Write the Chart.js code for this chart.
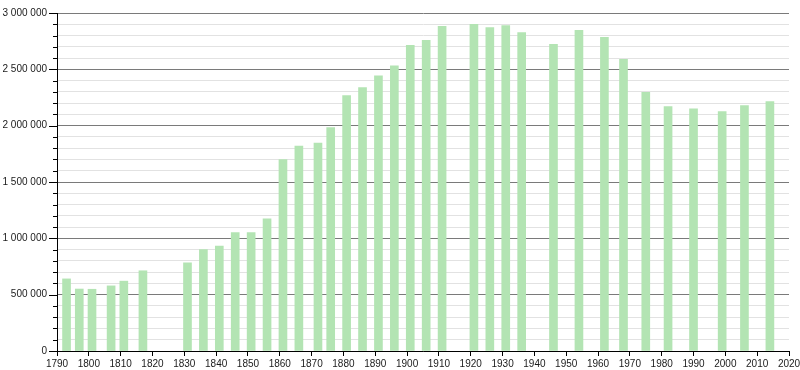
<!DOCTYPE html>
<html>
<head>
<meta charset="utf-8">
<script src="https://cdn.jsdelivr.net/npm/chart.js@4/dist/chart.umd.min.js"></script>
<style>
  html, body { margin: 0; padding: 0; background: #fff; }
  #wrap { width: 800px; height: 370px; }
</style>
</head>
<body>
<div id="wrap"><canvas id="myChart" width="800" height="370"></canvas></div>
<script>
// Census years and population
const years = [1793, 1797, 1801, 1807, 1811, 1817, 1831, 1836, 1841, 1846, 1851, 1856,
    1861, 1866, 1872, 1876, 1881, 1886, 1891, 1896, 1901, 1906, 1911, 1921, 1926,
    1931, 1936, 1946, 1954, 1962, 1968, 1975, 1982, 1990, 1999, 2006, 2014];
const population = [640000, 550000, 548000, 578000, 620000, 712000, 782000, 900000, 932000,
    1050000, 1050000, 1172000, 1698000, 1818000, 1845000, 1982000, 2266000, 2338000,
    2443000, 2532000, 2712000, 2758000, 2882000, 2900000, 2870000, 2888000, 2827000,
    2721000, 2846000, 2784000, 2588000, 2295000, 2170000, 2150000, 2124000, 2178000, 2214000];

const xMin = 1790, xMax = 2020, xStep = 10;
const yMax = 3000000, yMinorStep = 100000, yMajorStep = 500000;

const points = years.map((y, i) => ({ x: y, y: population[i] }));

function spaced(v) {
    return String(v).replace(/\B(?=(\d{3})+(?!\d))/g, ' ');
}

// draws the small y ticks: longer at labelled values
const yTicksPlugin = {
    id: 'yTicks',
    afterDraw(chart) {
        const s = chart.scales.y;
        const ctx = chart.ctx;
        ctx.save();
        ctx.strokeStyle = '#000';
        ctx.lineWidth = 1;
        s.ticks.forEach(t => {
            const py = Math.round(s.getPixelForValue(t.value)) + 0.5;
            const len = t.value % yMajorStep === 0 ? 8 : 4;
            ctx.beginPath();
            ctx.moveTo(s.right - len, py);
            ctx.lineTo(s.right, py);
            ctx.stroke();
        });
        ctx.restore();
    }
};

Chart.defaults.font.family = '"Liberation Sans", Arial, sans-serif';
Chart.defaults.font.size = 10;
Chart.defaults.color = '#1a1a1a';

const config = {
    type: 'bar',
    data: {
        datasets: [{
            data: points,
            backgroundColor: 'rgb(179, 228, 179)',
            borderWidth: 0,
            barThickness: 8
        }]
    },
    options: {
        responsive: false,
        animation: false,
        layout: { padding: { top: 13, right: 11, left: 0, bottom: 0 } },
        plugins: {
            legend: { display: false },
            tooltip: { enabled: false }
        },
        scales: {
            x: {
                type: 'linear',
                min: xMin,
                max: xMax,
                offset: false,
                grid: { offset: false, drawOnChartArea: false, drawTicks: true, tickLength: 5, tickColor: '#000' },
                border: { color: '#000', width: 1 },
                ticks: {
                    stepSize: xStep,
                    autoSkip: false,
                    maxRotation: 0,
                    padding: 2,
                    callback: v => String(v)
                },
                afterFit: s => { s.height = 19; s.paddingLeft = 0; s.paddingRight = 0; }
            },
            y: {
                min: 0,
                max: yMax,
                grid: {
                    drawTicks: false,
                    color: c => (c.tick && c.tick.value % yMajorStep === 0) ? '#7a7a7a' : '#e2e2e2',
                    lineWidth: 1
                },
                border: { color: '#000', width: 1 },
                ticks: {
                    stepSize: yMinorStep,
                    autoSkip: false,
                    padding: 10,
                    callback: v => v % yMajorStep === 0 ? spaced(v) : ''
                },
                afterFit: s => { s.width = 57; s.paddingTop = 0; s.paddingBottom = 0; }
            }
        }
    },
    plugins: [yTicksPlugin]
};

var myChart = new Chart(document.getElementById('myChart'), config);
</script>
</body>
</html>
